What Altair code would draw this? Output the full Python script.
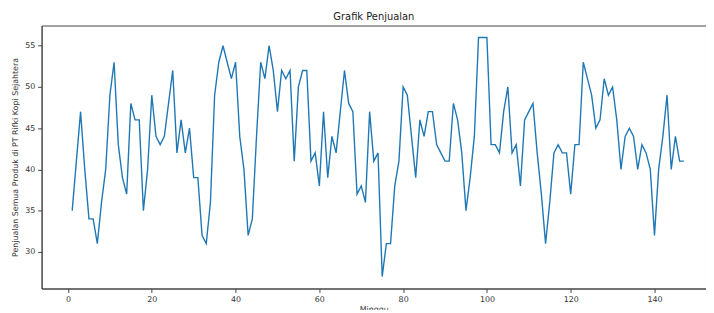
import altair as alt
import pandas as pd

weeks = list(range(1, 148))
sales = [
    35, 41, 47, 40, 34, 34, 31, 36, 40, 49,
    53, 43, 39, 37, 48, 46, 46, 35, 40, 49,
    44, 43, 44, 48, 52, 42, 46, 42, 45, 39,
    39, 32, 31, 36, 49, 53, 55, 53, 51, 53,
    44, 40, 32, 34, 44, 53, 51, 55, 52, 47,
    52, 51, 52, 41, 50, 52, 52, 41, 42, 38,
    47, 39, 44, 42, 47, 52, 48, 47, 37, 38,
    36, 47, 41, 42, 27, 31, 31, 38, 41, 50,
    49, 44, 39, 46, 44, 47, 47, 43, 42, 41,
    41, 48, 46, 42, 35, 39, 44, 56, 56, 56,
    43, 43, 42, 47, 50, 42, 43, 38, 46, 47,
    48, 42, 37, 31, 36, 42, 43, 42, 42, 37,
    43, 43, 53, 51, 49, 45, 46, 51, 49, 50,
    46, 40, 44, 45, 44, 40, 43, 42, 40, 32,
    40, 44, 49, 40, 44, 41, 41,
]
x_ticks = [0, 20, 40, 60, 80, 100, 120, 140]
y_ticks = [30, 35, 40, 45, 50, 55]

df = pd.DataFrame({"Minggu": weeks, "Penjualan": sales})

FONT = "DejaVu Sans"

chart = (
    alt.Chart(df)
    .mark_line(color="#1f77b4", strokeWidth=1.4, clip=True)
    .encode(
        x=alt.X(
            "Minggu:Q",
            scale=alt.Scale(domain=[-6.3, 152.3], nice=False, zero=False),
            axis=alt.Axis(
                values=x_ticks,
                title="Minggu",
                grid=False,
                tickSize=4,
                labelPadding=3,
                titlePadding=2,
            ),
        ),
        y=alt.Y(
            "Penjualan:Q",
            scale=alt.Scale(domain=[25.55, 57.45], nice=False, zero=False),
            axis=alt.Axis(
                values=y_ticks,
                title="Penjualan Semua Produk di PT Rifki Kopi Sejahtera",
                grid=False,
                tickSize=4,
                labelPadding=3,
                titlePadding=5,
            ),
        ),
    )
    .properties(
        width=672,
        height=266,
        background="white",
        title=alt.TitleParams(
            "Grafik Penjualan",
            font=FONT,
            fontSize=10,
            fontWeight="normal",
            color="#222222",
            anchor="middle",
            offset=4,
        ),
        autosize=alt.AutoSizeParams(type="none"),
        padding={"left": 34, "top": 16, "right": 0, "bottom": 20},
    )
    .configure_view(stroke="#444444", strokeWidth=1)
    .configure_axis(
        labelFont=FONT,
        titleFont=FONT,
        labelFontSize=8,
        titleFontSize=8,
        titleFontWeight="normal",
        labelColor="#333333",
        titleColor="#333333",
        tickColor="#444444",
        domainColor="#444444",
        domainWidth=1,
        tickWidth=1,
    )
)

chart.save("out.html", embed_options={"renderer": "svg", "actions": False})
